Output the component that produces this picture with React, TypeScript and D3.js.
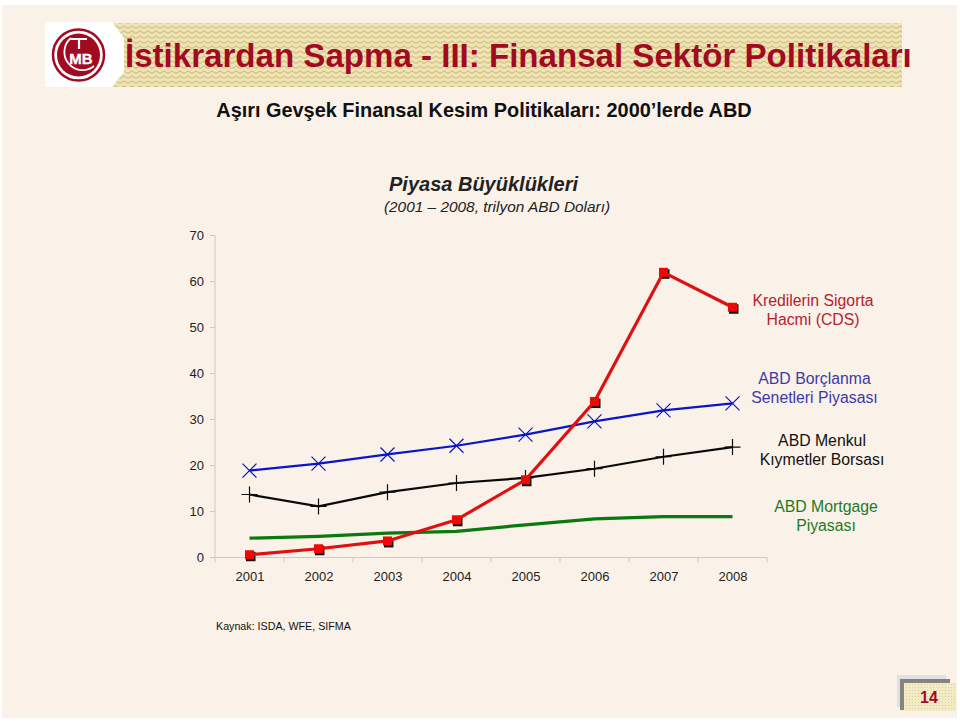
import React from 'react'
import * as d3 from 'd3'

const width = 960
const height = 725
const margin = { top: 235.5, right: 193, bottom: 167.5, left: 215 }

const years = ['2001', '2002', '2003', '2004', '2005', '2006', '2007', '2008']
const yTicks = [0, 10, 20, 30, 40, 50, 60, 70]

const cdsValues = [0.6, 1.9, 3.6, 8.2, 16.9, 33.9, 62, 54.4]
const bondValues = [18.9, 20.4, 22.4, 24.3, 26.7, 29.6, 32, 33.5]
const stockValues = [13.7, 11.1, 14.2, 16.2, 17.3, 19.3, 21.9, 24]
const mortgageValues = [4.2, 4.6, 5.3, 5.7, 7.1, 8.4, 8.9, 8.9]

const font = '"Liberation Sans", Arial, sans-serif'
const axisColor = '#d2c9bb'
const bankRed = '#a20a22'

const x = d3.scaleBand<string>()
    .domain(years)
    .range([margin.left, width - margin.right])

const y = d3.scaleLinear()
    .domain([0, 70])
    .range([height - margin.bottom, margin.top])

const px = (i: number) => (x(years[i]) as number) + x.bandwidth() / 2

const line = d3.line<number>()
    .x((d, i) => px(i))
    .y(d => y(d))

const Label = ({ x, y, lines, fill }: { x: number, y: number, lines: string[], fill: string }) => (
    <text textAnchor="middle" fontSize={15.8} fill={fill}>
        {lines.map((t, i) => <tspan key={t} x={x} y={y + i * 19}>{t}</tspan>)}
    </text>
)

export default function App() {
    return (
        <svg width={width} height={height} viewBox={`0 0 ${width} ${height}`} fontFamily={font}
            style={{ position: 'absolute', left: 0, top: 0, background: '#fff' }}>
            <defs>
                <pattern id="zig" width="8" height="5" patternUnits="userSpaceOnUse">
                    <rect width="8" height="5" fill="#efe4b6" />
                    <path d="M0 3.5 L4 1 L8 3.5" fill="none" stroke="#d3c284" strokeWidth="1.1" />
                </pattern>
                <pattern id="dots" width="3" height="3" patternUnits="userSpaceOnUse">
                    <rect width="3" height="3" fill="#f3ebc6" />
                    <rect width="1" height="1" fill="#ddd09a" />
                </pattern>
            </defs>
            <rect x={2} y={5} width={955} height={713} fill="#faf2e8" />

            {/* header band and logo */}
            <rect x={112} y={23} width={790} height={64} fill="url(#zig)" />
            <path d="M45 22 H112 L124 38 V72 L112 87 H45 Z" fill="#fff" />
            <circle cx={78.5} cy={55} r={25.5} fill="none" stroke={bankRed} strokeWidth={2.5} />
            <circle cx={78.5} cy={55} r={21.5} fill={bankRed} />
            <path d="M71 38 A18 18 0 1 0 94 66" fill="none" stroke="#fff" strokeWidth={1.8} />
            <path d="M71 39 H87 M79 39 V49" fill="none" stroke="#fff" strokeWidth={2.2} />
            <text x={81} y={64} textAnchor="middle" fontSize={15} fontWeight="bold" fill="#fff" stroke="#fff" strokeWidth={0.3}>MB</text>
            <text x={125} y={67} fontSize={33.1} fontWeight="bold" fill={bankRed}>İstikrardan Sapma - III: Finansal Sektör Politikaları</text>
            <text x={484} y={117} textAnchor="middle" fontSize={19.9} fontWeight="bold" fill="#111">Aşırı Gevşek Finansal Kesim Politikaları: 2000’lerde ABD</text>

            {/* chart titles */}
            <text x={483.5} y={191} textAnchor="middle" fontSize={20} fontWeight="bold" fontStyle="italic" fill="#222">Piyasa Büyüklükleri</text>
            <text x={497} y={212} textAnchor="middle" fontSize={15.4} fontStyle="italic" fill="#222">(2001 – 2008, trilyon ABD Doları)</text>

            {/* axes */}
            <g stroke={axisColor} strokeWidth={1}>
                <line x1={margin.left} x2={margin.left} y1={y(70)} y2={y(0)} />
                <line x1={margin.left - 5} x2={width - margin.right} y1={y(0)} y2={y(0)} />
                {yTicks.map(t => <line key={t} x1={margin.left - 5} x2={margin.left} y1={y(t)} y2={y(t)} />)}
                {years.map(d => <line key={d} x1={(x(d) as number) + x.bandwidth()} x2={(x(d) as number) + x.bandwidth()} y1={y(0)} y2={y(0) + 5} />)}
                <line x1={margin.left} x2={margin.left} y1={y(0)} y2={y(0) + 5} />
            </g>
            <g fontSize={13} fill="#222">
                {yTicks.map(t => <text key={t} x={204} y={y(t) + 4.5} textAnchor="end">{t}</text>)}
                {years.map((d, i) => <text key={d} x={px(i) + 0.5} y={581} textAnchor="middle">{d}</text>)}
            </g>

            {/* series */}
            <path d={line(mortgageValues) as string} fill="none" stroke="#0a7a10" strokeWidth={3.2} />
            <path d={line(stockValues) as string} fill="none" stroke="#0a0a0a" strokeWidth={2.2} />
            {stockValues.map((d, i) => (
                <path key={i} d={`M${px(i) - 8} ${y(d)}H${px(i) + 8}M${px(i)} ${y(d) - 8}V${y(d) + 8}`} stroke="#0a0a0a" strokeWidth={1.2} fill="none" />
            ))}
            <path d={line(bondValues) as string} fill="none" stroke="#0a14c8" strokeWidth={2.2} />
            {bondValues.map((d, i) => (
                <path key={i} d={`M${px(i) - 7} ${y(d) - 7}L${px(i) + 7} ${y(d) + 7}M${px(i) + 7} ${y(d) - 7}L${px(i) - 7} ${y(d) + 7}`} stroke="#0a14c8" strokeWidth={1.2} fill="none" />
            ))}
            {cdsValues.map((d, i) => <rect key={i} x={px(i) - 3.5} y={y(d) - 3} width={9.5} height={9.5} fill="#111" />)}
            <path d={line(cdsValues) as string} fill="none" stroke="#e01010" strokeWidth={3.2} />
            {cdsValues.map((d, i) => <rect key={i} x={px(i) - 4.5} y={y(d) - 4.5} width={9} height={9} fill="#f00808" />)}

            {/* series labels */}
            <Label x={813} y={305.5} lines={['Kredilerin Sigorta', 'Hacmi (CDS)']} fill="#b5222e" />
            <Label x={814.5} y={384} lines={['ABD Borçlanma', 'Senetleri Piyasası']} fill="#3a3aa8" />
            <Label x={822} y={445.5} lines={['ABD Menkul', 'Kıymetler Borsası']} fill="#111" />
            <Label x={826} y={512} lines={['ABD Mortgage', 'Piyasası']} fill="#1d7a2a" />

            <text x={216} y={630} fontSize={10.7} fill="#111">Kaynak: ISDA, WFE, SIFMA</text>

            {/* page number */}
            <rect x={897} y={675} width={49} height={32} fill="#dfe0e4" />
            <path d="M902 710 V681 H950" fill="none" stroke="#85857f" strokeWidth={4} />
            <rect x={904} y={683} width={52} height={28} fill="url(#dots)" />
            <text x={929} y={703} textAnchor="middle" fontSize={16} fontWeight="bold" fill={bankRed}>14</text>
        </svg>
    )
}
